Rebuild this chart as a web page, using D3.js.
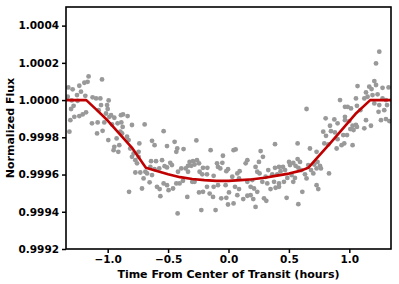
<!DOCTYPE html>
<html>
<head>
<meta charset="utf-8">
<script src="https://cdn.jsdelivr.net/npm/d3@7"></script>
<style>
    body { margin: 0; background: #fff; }
    svg text { font-family: "DejaVu Sans", sans-serif; font-weight: bold; fill: #000; }
</style>
</head>
<body>
<svg width="399" height="284"></svg>
<script>
// observed points: time (hours) and normalized flux
const obsTime = [
    -1.326, -1.290, -1.235, -1.193, -1.158, -1.166, -1.047, -1.331, -1.298, -1.254,
    -1.221, -1.249, -1.185, -1.125, -1.096, -1.061, -0.992, -1.303, -1.282, -1.235,
    -1.207, -1.179, -1.309, -1.276, -1.317, -1.130, -1.083, -1.088, -1.042, -1.075,
    -1.055, -1.005, -1.000, -1.014, -0.986, -0.972, -0.945, -0.918, -0.890, -0.995,
    -0.945, -0.951, -0.912, -0.926, -0.904, -0.876, -0.895, -0.964, -1.028,
    -0.873, -0.835, -0.887, -0.799, -0.694, -0.537, -0.881, -0.840, -0.827, -0.738,
    -0.633, -0.612, -0.509, -0.446, -0.432, -0.813, -0.785, -0.799, -0.744, -0.771,
    -0.757, -0.744, -0.641, -0.600, -0.550, -0.482, -0.468, -0.771, -0.730, -0.688,
    -0.703, -0.647, -0.612, -0.573, -0.529, -0.509, -0.653, -0.592, -0.570, -0.537,
    -0.509, -0.496, -0.459, -0.432, -0.823, -0.716, -0.564, -0.421, -0.674, -0.633,
    -0.266, -0.424, -0.372, -0.148, -0.046, 0.042, -0.322, -0.294, -0.261, -0.244,
    -0.335, -0.308, -0.281, -0.391, -0.355, -0.211, -0.175, -0.095, -0.051, -0.087,
    -0.068, -0.018, -0.004, -0.418, -0.335, -0.239, -0.217, -0.178, -0.123, -0.377,
    -0.405, -0.300, -0.281, -0.178, -0.123, -0.087, -0.024, -0.244, -0.211, -0.156,
    -0.128, -0.060, -0.018, 0.004, -0.341, -0.004, 0.042, -0.225, -0.107,
    0.385, 0.059, 0.266, 0.285, 0.156, 0.142, 0.252, 0.224, 0.501, 0.092,
    0.073, 0.238, 0.257, 0.329, 0.385, 0.418, 0.451, 0.468, 0.431, 0.362,
    0.404, 0.307, 0.031, 0.087, 0.156, 0.197, 0.280, 0.321, 0.377, 0.418,
    0.459, 0.487, 0.054, 0.087, 0.183, 0.211, 0.238, 0.348, 0.390, 0.418,
    0.073, 0.122, 0.183, 0.205, 0.294, 0.313, 0.481, 0.224, 0.156,
    0.923, 0.964, 0.646, 0.804, 0.876, 0.903, 0.840, 0.784, 0.848, 0.881,
    0.964, 0.950, 0.903, 0.936, 0.807, 0.826, 0.895, 0.793, 0.572, 0.674,
    0.729, 0.536, 0.572, 0.592, 0.509, 0.555, 0.578, 0.660, 0.710, 0.737,
    0.757, 0.683, 0.729, 0.765, 0.605, 0.633, 0.522, 0.550, 0.646, 0.702,
    0.832, 0.536, 0.729, 0.743, 0.611, 0.578,
    1.248, 1.221, 1.068, 1.165, 1.184, 1.207, 1.221, 1.275, 1.325, 1.138,
    1.151, 1.192, 1.234, 1.055, 1.124, 1.275, 1.303, 1.207, 1.248, 1.312,
    1.242, 1.289, 0.986, 1.014, 1.063, 1.091, 1.138, 1.179, 1.262, 1.303,
    1.331, 0.964, 1.000, 1.027, 1.055, 1.008, 1.035, 1.063, 1.124, 0.981,
    1.027, 0.958
];
const obsFlux = [
    1.000068, 1.000058, 1.000077, 1.000093, 1.000127, 1.000098, 1.000111, 1.000018, 0.999998, 1.000027,
    1.000045, 0.999996, 1.000023, 1.000015, 1.000009, 1.000009, 0.999998, 0.999952, 0.999969, 0.999914,
    0.999923, 0.999934, 0.999892, 0.999910, 0.999830, 0.999875, 0.999880, 0.999821, 0.999835, 0.999946,
    0.999973, 0.999973, 0.999952, 0.999928, 0.999910, 0.999919, 0.999905, 0.999875, 0.999919, 0.999785,
    0.999749, 0.999731, 0.999722, 0.999794, 0.999758, 0.999856, 0.999830, 0.999869, 0.999880,
    0.999923, 0.999914, 0.999880, 0.999866, 0.999869, 0.999833, 0.999821, 0.999803, 0.999785, 0.999767,
    0.999781, 0.999758, 0.999753, 0.999776, 0.999722, 0.999740, 0.999713, 0.999695, 0.999722, 0.999677,
    0.999660, 0.999695, 0.999672, 0.999672, 0.999677, 0.999663, 0.999651, 0.999611, 0.999611, 0.999615,
    0.999579, 0.999641, 0.999629, 0.999633, 0.999645, 0.999638, 0.999558, 0.999534, 0.999522, 0.999552,
    0.999543, 0.999516, 0.999525, 0.999552, 0.999507, 0.999525, 0.999484, 0.999391, 0.999606, 0.999597,
    0.999783, 0.999740, 0.999737, 0.999731, 0.999701, 0.999731, 0.999668, 0.999672, 0.999677, 0.999660,
    0.999647, 0.999647, 0.999654, 0.999633, 0.999633, 0.999636, 0.999636, 0.999660, 0.999663, 0.999641,
    0.999633, 0.999618, 0.999629, 0.999615, 0.999615, 0.999615, 0.999601, 0.999601, 0.999593, 0.999566,
    0.999552, 0.999561, 0.999561, 0.999534, 0.999534, 0.999543, 0.999543, 0.999504, 0.999507, 0.999498,
    0.999480, 0.999472, 0.999475, 0.999504, 0.999480, 0.999439, 0.999445, 0.999409, 0.999409,
    0.999763, 0.999735, 0.999726, 0.999695, 0.999677, 0.999660, 0.999668, 0.999641, 0.999668, 0.999618,
    0.999606, 0.999615, 0.999606, 0.999624, 0.999636, 0.999641, 0.999641, 0.999624, 0.999618, 0.999601,
    0.999601, 0.999588, 0.999588, 0.999579, 0.999561, 0.999570, 0.999561, 0.999552, 0.999561, 0.999552,
    0.999561, 0.999582, 0.999534, 0.999522, 0.999534, 0.999525, 0.999507, 0.999522, 0.999529, 0.999534,
    0.999489, 0.999468, 0.999489, 0.999468, 0.999472, 0.999459, 0.999475, 0.999426, 0.999486,
    1.000000, 0.999964, 0.999952, 0.999902, 0.999896, 0.999875, 0.999862, 0.999830, 0.999833, 0.999826,
    0.999892, 0.999812, 0.999790, 0.999758, 0.999808, 0.999762, 0.999740, 0.999767, 0.999767, 0.999740,
    0.999722, 0.999663, 0.999683, 0.999668, 0.999651, 0.999647, 0.999636, 0.999651, 0.999654, 0.999668,
    0.999647, 0.999624, 0.999633, 0.999633, 0.999624, 0.999601, 0.999597, 0.999582, 0.999579, 0.999606,
    0.999606, 0.999561, 0.999543, 0.999522, 0.999507, 0.999441,
    1.000260, 1.000197, 1.000075, 1.000072, 1.000059, 1.000102, 1.000081, 1.000066, 1.000068, 1.000041,
    1.000018, 1.000027, 1.000031, 1.000009, 1.000009, 1.000009, 1.000000, 0.999982, 0.999973, 0.999973,
    0.999937, 0.999946, 0.999964, 0.999955, 0.999969, 0.999946, 0.999892, 0.999862, 0.999892, 0.999898,
    0.999887, 0.999910, 0.999887, 0.999862, 0.999866, 0.999844, 0.999839, 0.999856, 0.999848, 0.999812,
    0.999758, 0.999767
];

// fitted transit model
const modelTime = [-1.345, -1.177, -1.10, -1.00, -0.90, -0.80, -0.684, -0.60, -0.50, -0.40, -0.30, -0.20, -0.10,
    0.00, 0.10, 0.20, 0.30, 0.40, 0.50, 0.60, 0.66, 0.75, 0.85, 0.95, 1.05, 1.173, 1.345];
const modelFlux = [1.0, 1.0, 0.999953, 0.999890, 0.999817, 0.999745, 0.999637, 0.999621, 0.999602, 0.999586, 0.999576, 0.999570, 0.999566,
    0.999566, 0.999570, 0.999575, 0.999583, 0.999594, 0.999605, 0.999621, 0.999636, 0.999702, 0.999774, 0.999849, 0.999925, 1.0, 1.0];

const xTicks = [-1.0, -0.5, 0.0, 0.5, 1.0];
const yTicks = [0.9992, 0.9994, 0.9996, 0.9998, 1.0000, 1.0002, 1.0004];

const svg = d3.select("svg");
const margin = {top: 7, right: 8, bottom: 35, left: 66};
const width = 399 - margin.left - margin.right;
const height = 284 - margin.top - margin.bottom;

const x = d3.scaleLinear().domain([-1.345, 1.345]).range([0, width]);
const y = d3.scaleLinear().domain([0.9992, 1.00050]).range([height, 0]);

const g = svg.append("g").attr("transform", "translate(" + margin.left + "," + margin.top + ")");

g.append("clipPath").attr("id", "clip")
    .append("rect").attr("width", width).attr("height", height);

const points = obsTime.map((t, i) => ({t: t, f: obsFlux[i]}));
const model = modelTime.map((t, i) => ({t: t, f: modelFlux[i]}));

const plot = g.append("g").attr("clip-path", "url(#clip)");

plot.selectAll("circle")
    .data(points)
    .enter().append("circle")
    .attr("cx", d => x(d.t))
    .attr("cy", d => y(d.f))
    .attr("r", 2.4)
    .attr("fill", "#999999");

plot.append("path")
    .datum(model)
    .attr("fill", "none")
    .attr("stroke", "#c00000")
    .attr("stroke-width", 2.6)
    .attr("stroke-linejoin", "round")
    .attr("d", d3.line().x(d => x(d.t)).y(d => y(d.f)));

const xAxis = g.append("g")
    .attr("transform", "translate(0," + height + ")")
    .call(d3.axisBottom(x).tickValues(xTicks).tickFormat(d3.format(".1f")).tickSize(4).tickPadding(3));

const yAxis = g.append("g")
    .call(d3.axisLeft(y).tickValues(yTicks).tickFormat(d3.format(".4f")).tickSize(4).tickPadding(3));

[xAxis, yAxis].forEach(a => {
    a.select(".domain").remove();
    a.selectAll("line").attr("stroke", "#000").attr("stroke-width", 1.5);
    a.selectAll("text").attr("font-size", 10.5).attr("font-family", "DejaVu Sans").attr("font-weight", "bold");
});

g.append("rect")
    .attr("width", width)
    .attr("height", height)
    .attr("fill", "none")
    .attr("stroke", "#000")
    .attr("stroke-width", 1.6);

svg.append("text")
    .attr("x", margin.left + x(0))
    .attr("y", 277.5)
    .attr("text-anchor", "middle")
    .attr("font-size", 11)
    .text("Time From Center of Transit (hours)");

svg.append("text")
    .attr("transform", "translate(14," + (margin.top + height / 2) + ") rotate(-90)")
    .attr("text-anchor", "middle")
    .attr("font-size", 11)
    .text("Normalized Flux");
</script>
</body>
</html>
